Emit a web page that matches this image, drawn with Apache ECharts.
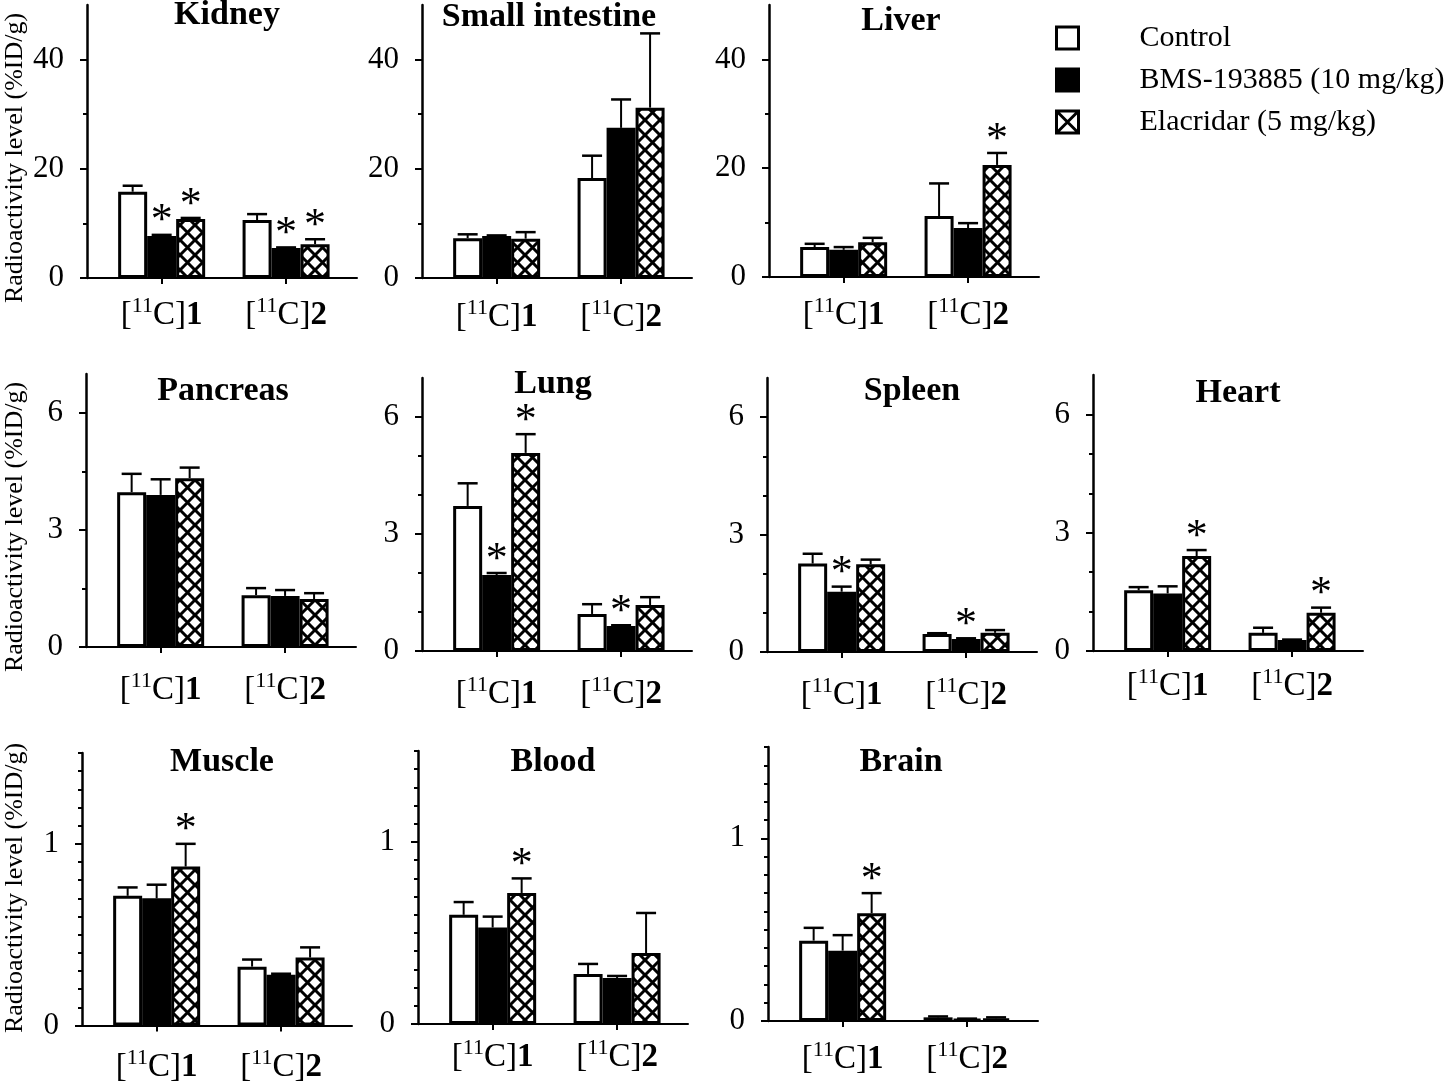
<!DOCTYPE html>
<html><head><meta charset="utf-8">
<script src="https://cdn.jsdelivr.net/npm/echarts@6/dist/echarts.min.js"></script>
<style>html,body{margin:0;padding:0;background:#fff}#c{width:1447px;height:1084px}</style>
</head><body><div id="c"></div>
<script>
// ---------------- DATA ----------------
const compounds = ['1', '2'];            // [11C]1 and [11C]2
const isotope = '11';
const seriesNames = ['Control', 'BMS-193885 (10 mg/kg)', 'Elacridar (5 mg/kg)'];
const organs = ['Kidney', 'Small intestine', 'Liver', 'Pancreas', 'Lung', 'Spleen', 'Heart', 'Muscle', 'Blood', 'Brain'];
const yAxisTitle = 'Radioactivity level (%ID/g)';

// mean values per organ: [compound 1, compound 2]
const controlMean = [[15.8,10.6],[7.3,18.3],[5.5,11.2],[3.97,1.33],[3.72,0.95],[2.26,0.46],[1.54,0.46],[0.714,0.324],[0.60,0.275],[0.44,0.02]];
const controlSD   = [[1.1,1.1],[0.7,4.1],[0.6,6.0],[0.47,0.18],[0.58,0.25],[0.25,0.02],[0.08,0.13],[0.046,0.039],[0.07,0.055],[0.07,0.005]];
const bmsMean     = [[7.7,5.5],[7.7,27.5],[5.0,9.0],[3.9,1.31],[1.95,0.64],[1.54,0.33],[1.46,0.28],[0.70,0.28],[0.53,0.253],[0.385,0.01]];
const bmsSD       = [[0.2,0.1],[0.1,5.2],[0.5,0.9],[0.4,0.15],[0.05,0.02],[0.13,0.02],[0.18,0.01],[0.075,0.005],[0.06,0.011],[0.085,0.003]];
const elaMean     = [[10.8,6.2],[7.2,31.2],[6.4,20.6],[4.33,1.23],[5.08,1.18],[2.24,0.49],[2.41,0.97],[0.875,0.374],[0.72,0.39],[0.59,0.015]];
const elaSD       = [[0.2,0.9],[1.2,13.6],[0.8,2.2],[0.27,0.15],[0.48,0.2],[0.12,0.07],[0.15,0.13],[0.125,0.056],[0.08,0.22],[0.11,0.005]];
// significance (*) flags
const controlSig  = [[0,0],[0,0],[0,0],[0,0],[0,0],[0,0],[0,0],[0,0],[0,0],[0,0]];
const bmsSig      = [[1,1],[0,0],[0,0],[0,0],[1,1],[1,1],[0,0],[0,0],[0,0],[0,0]];
const elaSig      = [[1,1],[0,0],[0,1],[0,0],[1,0],[0,0],[1,1],[1,0],[1,0],[1,0]];

// axis ranges and ticks
const yMax        = [50,50,50,7,7,7,7,1.5,1.5,1.5];
const yMajorTicks = [[0,20,40],[0,20,40],[0,20,40],[0,3,6],[0,3,6],[0,3,6],[0,3,6],[0,1],[0,1],[0,1]];
const minorRow3 = [0.1,0.2,0.3,0.4,0.5,0.6,0.7,0.8,0.9,1.1,1.2,1.3,1.4,1.5];
const yMinorTicks = [[10,30],[10,30],[10,30],[1.5,4.5],[1,2,4,5],[1,2,4,5],[1,2,4,5],minorRow3,minorRow3,minorRow3];

// ---------------- LAYOUT ----------------
const FONT = 'Liberation Serif, Times New Roman, serif';
const panels = [
  {X:87,  top:5,   zero:278,  tx:227,  ty:15,  lm:17},
  {X:422, top:5,   zero:278,  tx:549,  ty:17,  lm:19},
  {X:769, top:5,   zero:277,  tx:901,  ty:21,  lm:18},
  {X:86,  top:374, zero:647,  tx:223,  ty:391, lm:23},
  {X:422, top:378, zero:651,  tx:553,  ty:384, lm:23},
  {X:767, top:378, zero:652,  tx:912,  ty:391, lm:23},
  {X:1093,top:375, zero:651,  tx:1238, ty:393, lm:15},
  {X:82,  top:753, zero:1026, tx:222,  ty:762, lm:22},
  {X:418, top:751, zero:1024, tx:553,  ty:762, lm:13},
  {X:768, top:747, zero:1021, tx:901,  ty:762, lm:18}
];
const yNamePos = [[15,158],[15,527],[15,888]];
const AXIS_W = 270, XMIN = 0.4, XMAX = 2.57;
const BAR_W = 29, CAP = 10, STAR_OFF = 13;

function makeHatch() {
  const s = 15, c = document.createElement('canvas');
  c.width = s; c.height = s;
  const g = c.getContext('2d');
  g.fillStyle = '#fff'; g.fillRect(0, 0, s, s);
  g.strokeStyle = '#000'; g.lineWidth = 3; g.beginPath();
  for (const k of [-1, 0, 1]) {
    g.moveTo(-s, -s + k * s); g.lineTo(2 * s, 2 * s + k * s);
    g.moveTo(-s, 2 * s + k * s); g.lineTo(2 * s, -s + k * s);
  }
  g.stroke();
  return c;
}
const hatch = {image: makeHatch(), repeat: 'repeat'};
const fills = ['#ffffff', '#000000', hatch];
const means = [controlMean, bmsMean, elaMean];
const sds = [controlSD, bmsSD, elaSD];
const sigs = [controlSig, bmsSig, elaSig];

const richLabel = {
  n: {fontFamily: FONT, fontSize: 33, lineHeight: 40, color: '#000'},
  s: {fontFamily: FONT, fontSize: 22, lineHeight: 22, verticalAlign: 'top', color: '#000'},
  b: {fontFamily: FONT, fontSize: 33, lineHeight: 40, fontWeight: 'bold', color: '#000'}
};

const grid = [], xAxis = [], yAxis = [], series = [], graphic = [];
panels.forEach((p, i) => {
  grid.push({left: p.X, top: p.top, width: AXIS_W, height: p.zero - p.top, containLabel: false});
  xAxis.push({
    type: 'value', gridIndex: i, min: XMIN, max: XMAX,
    axisLine: {show: true, lineStyle: {color: '#000', width: 2}},
    axisTick: {show: true, customValues: [1, 2], length: 6, lineStyle: {color: '#000', width: 2}},
    axisLabel: {show: true, customValues: [1, 2], margin: p.lm, verticalAlign: 'top',
      formatter: v => { const c = compounds[Math.round(v) - 1]; return '{n|[}{s|' + isotope + '}{n|C]}{b|' + c + '}'; },
      rich: richLabel},
    splitLine: {show: false}
  });
  yAxis.push({
    type: 'value', gridIndex: i, min: 0, max: yMax[i], position: 'left', offset: 0,
    axisLine: {show: true, lineStyle: {color: '#000', width: 2.5}},
    axisTick: {show: true, customValues: yMajorTicks[i], length: 7, lineStyle: {color: '#000', width: 2}},
    axisLabel: {show: true, customValues: yMajorTicks[i], margin: 23, fontFamily: FONT, fontSize: 31, color: '#000'},
    splitLine: {show: false}
  });
  yAxis.push({
    type: 'value', gridIndex: i, min: 0, max: yMax[i], position: 'left', offset: 0,
    axisLine: {show: false},
    axisTick: {show: true, customValues: yMinorTicks[i], length: 4, lineStyle: {color: '#000', width: 2}},
    axisLabel: {show: false},
    splitLine: {show: false}
  });
  const errData = [];
  for (let s = 0; s < 3; s++) {
    series.push({
      type: 'bar', name: seriesNames[s], xAxisIndex: i, yAxisIndex: 2 * i,
      barWidth: BAR_W, barGap: '0%',
      data: compounds.map((c, k) => [k + 1, means[s][i][k]]),
      itemStyle: {color: fills[s], borderColor: '#000', borderWidth: 3},
      emphasis: {disabled: true}, animation: false
    });
    compounds.forEach((c, k) => {
      errData.push([k + 1, means[s][i][k], means[s][i][k] + sds[s][i][k], s, sigs[s][i][k]]);
    });
  }
  series.push({
    type: 'custom', xAxisIndex: i, yAxisIndex: 2 * i, z: 5, clip: false, animation: false,
    silent: true, data: errData,
    renderItem: (params, api) => {
      const x = api.value(0), m = api.value(1), t = api.value(2), slot = api.value(3), sig = api.value(4);
      const p0 = api.coord([x, m]), p1 = api.coord([x, t]);
      const cx = p0[0] + (slot - 1) * BAR_W;
      const ch = [
        {type: 'line', shape: {x1: cx, y1: p0[1], x2: cx, y2: p1[1]}, style: {stroke: '#000', lineWidth: 2}},
        {type: 'line', shape: {x1: cx - CAP, y1: p1[1], x2: cx + CAP, y2: p1[1]}, style: {stroke: '#000', lineWidth: 2.5}}
      ];
      if (sig) ch.push({type: 'text', style: {text: '*', x: cx, y: p1[1] - STAR_OFF, fill: '#000',
        font: '44px ' + FONT, align: 'center', verticalAlign: 'middle'}});
      return {type: 'group', children: ch};
    }
  });
  graphic.push({type: 'text', x: p.tx, y: p.ty, style: {text: organs[i], fill: '#000',
    font: 'bold 34px ' + FONT, align: 'center', verticalAlign: 'middle'}});
});
yNamePos.forEach(([x, y]) => {
  graphic.push({type: 'text', x: x, y: y, rotation: Math.PI / 2, style: {text: yAxisTitle, fill: '#000',
    font: '26px ' + FONT, align: 'center', verticalAlign: 'middle'}});
});

const chart = echarts.init(document.getElementById('c'), null, {renderer: 'canvas'});
chart.setOption({
  animation: false,
  backgroundColor: '#fff',
  grid, xAxis, yAxis, series, graphic,
  legend: {
    orient: 'vertical', left: 1055, top: 23, itemWidth: 22, itemHeight: 22, itemGap: 12,
    selectedMode: false, padding: 0,
    textStyle: {fontFamily: FONT, fontSize: 30, color: '#000', lineHeight: 22, padding: [0, 0, 0, 56]},
    data: [
      {name: seriesNames[0], icon: 'rect', itemStyle: {color: '#fff', borderColor: '#000', borderWidth: 3}},
      {name: seriesNames[1], icon: 'rect', itemStyle: {color: '#000', borderColor: '#000', borderWidth: 3}},
      {name: seriesNames[2], icon: 'path://M0,0L22,0L22,22L0,22Z M0,0L22,22 M22,0L0,22',
        itemStyle: {color: '#fff', borderColor: '#000', borderWidth: 3}}
    ]
  }
});
</script></body></html>
